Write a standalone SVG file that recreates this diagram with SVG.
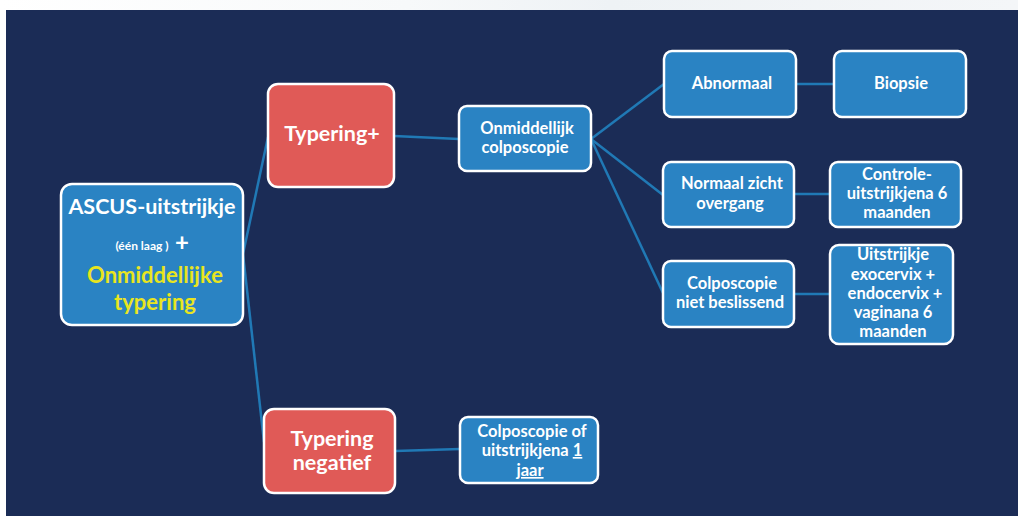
<svg xmlns="http://www.w3.org/2000/svg" width="1018" height="516" viewBox="0 0 1018 516">
<defs>
<linearGradient id="topg" x1="0" y1="0" x2="1" y2="0">
<stop offset="0" stop-color="#ffffff"/>
<stop offset="0.4" stop-color="#f7f9fa"/>
<stop offset="0.6" stop-color="#eef2f5"/>
<stop offset="1" stop-color="#f4f6f8"/>
</linearGradient>
<style>
.bg{fill:#1b2c56}
.blue{fill:#2a83c3;stroke:#ffffff;stroke-width:2.5}
.red{fill:#e05a57;stroke:#ffffff;stroke-width:2.5}
.conn line{stroke:#2079b5;stroke-width:2.5}
text{font-family:Lato,"Liberation Sans",sans-serif;font-weight:bold;fill:#ffffff;text-anchor:middle}
.t15{font-size:16.5px}
.t20{font-size:21.5px}
.yel{fill:#e9e51e;font-size:22px}
.u{text-decoration:underline}
</style>
</defs>
<rect x="0" y="0" width="1018" height="516" fill="#ffffff"/>
<rect x="0" y="0" width="1018" height="10" fill="url(#topg)"/>
<rect class="bg" x="6" y="10" width="1012" height="506"/>
<g class="conn" id="connectors">
<line x1="243" y1="254" x2="268" y2="137"/>
<line x1="243" y1="254" x2="264" y2="442"/>
<line x1="394" y1="136" x2="459" y2="139"/>
<line x1="591" y1="139" x2="664" y2="84"/>
<line x1="591" y1="139" x2="663" y2="195"/>
<line x1="591" y1="139" x2="663" y2="293"/>
<line x1="796" y1="84" x2="834" y2="84"/>
<line x1="794" y1="194" x2="830" y2="194"/>
<line x1="794" y1="294" x2="830" y2="294"/>
<line x1="395" y1="451" x2="460" y2="449"/>
</g>
<g id="ascus">
<rect class="blue" x="61" y="184" width="182" height="141" rx="11"/>
<text class="t20" x="152" y="214">ASCUS-uitstrijkje</text>
<text x="142" y="250" style="font-size:12px">(één laag )</text>
<text x="182" y="251" style="font-size:24px">+</text>
<text class="yel" x="155" y="283">Onmiddellijke</text>
<text class="yel" x="155" y="310">typering</text>
</g>
<g id="typering-plus">
<rect class="red" x="268" y="84" width="126" height="103" rx="10"/>
<text class="t20" x="332" y="141">Typering+</text>
</g>
<g id="onmiddellijk">
<rect class="blue" x="459" y="106" width="132" height="65" rx="8"/>
<text class="t15" x="527" y="134">Onmiddellijk</text>
<text class="t15" x="525" y="153">colposcopie</text>
</g>
<g id="abnormaal">
<rect class="blue" x="664" y="51" width="132" height="66" rx="8"/>
<text class="t15" x="732" y="89">Abnormaal</text>
</g>
<g id="biopsie">
<rect class="blue" x="834" y="51" width="132" height="66" rx="8"/>
<text class="t15" x="901" y="89">Biopsie</text>
</g>
<g id="normaal">
<rect class="blue" x="663" y="162" width="131" height="65" rx="8"/>
<text class="t15" x="732" y="189">Normaal zicht</text>
<text class="t15" x="730" y="209">overgang</text>
</g>
<g id="controle">
<rect class="blue" x="830" y="162" width="131" height="65" rx="8"/>
<text class="t15" x="897" y="180">Controle-</text>
<text class="t15" x="897" y="199">uitstrijkjena 6</text>
<text class="t15" x="897" y="218">maanden</text>
</g>
<g id="niet-beslissend">
<rect class="blue" x="663" y="261" width="131" height="66" rx="8"/>
<text class="t15" x="732" y="289">Colposcopie</text>
<text class="t15" x="730" y="308">niet beslissend</text>
</g>
<g id="uitstrijkje">
<rect class="blue" x="830" y="245" width="123" height="99" rx="9"/>
<text class="t15" x="893" y="260">Uitstrijkje</text>
<text class="t15" x="893" y="280">exocervix +</text>
<text class="t15" x="895" y="299">endocervix  +</text>
<text class="t15" x="893" y="318">vaginana 6</text>
<text class="t15" x="893" y="337">maanden</text>
</g>
<g id="typering-negatief">
<rect class="red" x="264" y="409" width="131" height="84" rx="10"/>
<text class="t20" x="332" y="446">Typering</text>
<text class="t20" x="332" y="470">negatief</text>
</g>
<g id="colposcopie-of">
<rect class="blue" x="460" y="417" width="138" height="66" rx="8"/>
<text class="t15" x="532" y="437">Colposcopie of</text>
<text class="t15" x="532" y="456">uitstrijkjena <tspan class="u">1</tspan></text>
<text class="t15 u" x="530" y="476">jaar</text>
</g>
</svg>
